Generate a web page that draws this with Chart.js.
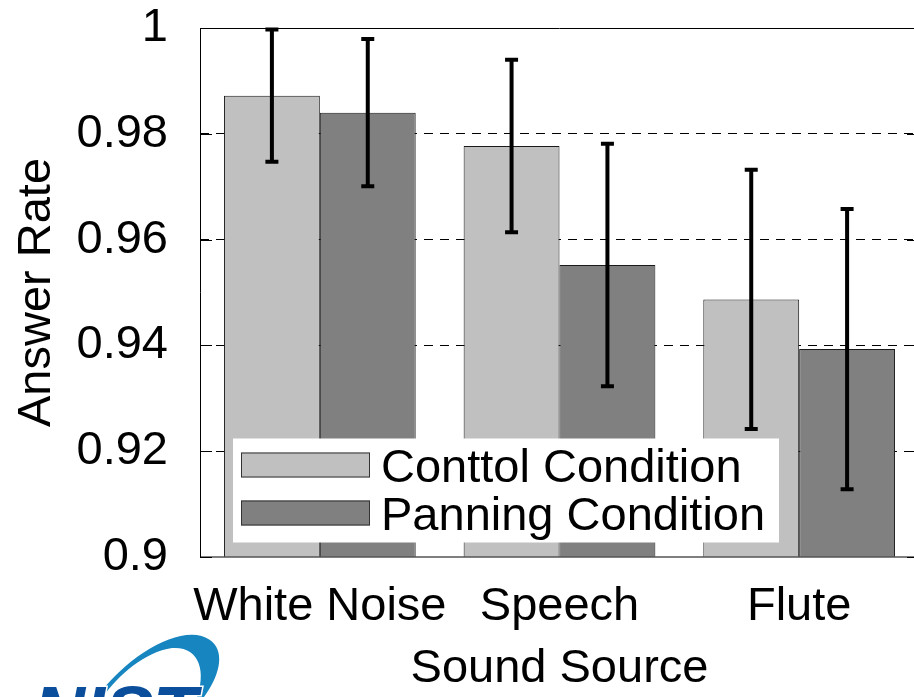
<!DOCTYPE html>
<html>
<head>
<meta charset="utf-8">
<title>Answer Rate by Sound Source</title>
<script src="https://cdn.jsdelivr.net/npm/chart.js@4.4.1/dist/chart.umd.min.js"></script>
<style>
  html, body { margin: 0; padding: 0; background: #fff; overflow: hidden; }
  #wrap { width: 924px; height: 697px; }
</style>
</head>
<body>
<div id="wrap"><canvas id="rateChart" width="924" height="697"></canvas></div>
<script>
const sources = ['White Noise', 'Speech', 'Flute'];
const seriesNames = ['Conttol Condition', 'Panning Condition'];
const controlRate = [0.9872, 0.9777, 0.9487];
const panningRate = [0.9840, 0.9552, 0.9393];
const controlErr = [0.0125, 0.0163, 0.0245];
const panningErr = [0.0139, 0.0229, 0.0265];
const yTicks = [0.9, 0.92, 0.94, 0.96, 0.98, 1];
const yTickLabels = ['0.9', '0.92', '0.94', '0.96', '0.98', '1'];

const FONT = '"Liberation Sans", Arial, Helvetica, sans-serif';
const ctx = document.getElementById('rateChart').getContext('2d');

// vertical error bars with flat caps, centred on each bar
const errorBars = {
    id: 'errorBars',
    afterDatasetsDraw(chart) {
        const c = chart.ctx;
        const y = chart.scales.y;
        c.save();
        c.strokeStyle = '#000';
        c.lineWidth = 4;
        chart.data.datasets.forEach((ds, i) => {
            chart.getDatasetMeta(i).data.forEach((bar, j) => {
                const top = y.getPixelForValue(ds.data[j] + ds.errors[j]);
                const bot = y.getPixelForValue(ds.data[j] - ds.errors[j]);
                c.beginPath();
                c.moveTo(bar.x, top); c.lineTo(bar.x, bot);
                c.moveTo(bar.x - 6.5, top); c.lineTo(bar.x + 6.5, top);
                c.moveTo(bar.x - 6.5, bot); c.lineTo(bar.x + 6.5, bot);
                c.stroke();
            });
        });
        c.restore();
    }
};

// axes box with inward ticks
const axesBox = {
    id: 'axesBox',
    afterDatasetsDraw(chart) {
        const c = chart.ctx;
        const a = chart.chartArea;
        const y = chart.scales.y;
        c.save();
        c.strokeStyle = '#555';
        c.lineWidth = 1.5;
        c.beginPath();
        c.moveTo(a.left, a.bottom); c.lineTo(a.right, a.bottom);
        c.stroke();
        c.strokeStyle = '#000';
        c.lineWidth = 1;
        c.beginPath();
        c.moveTo(a.left + 0.5, a.bottom); c.lineTo(a.left + 0.5, a.top + 0.5);
        c.lineTo(a.right - 0.5, a.top + 0.5); c.lineTo(a.right - 0.5, a.bottom);
        yTicks.forEach(v => {
            const py = Math.round(y.getPixelForValue(v)) + 0.5;
            c.moveTo(a.left, py); c.lineTo(a.left + 12, py);
            c.moveTo(a.right - 12, py); c.lineTo(a.right, py);
        });
        c.stroke();
        c.restore();
    }
};

// legend box sitting inside the plot, over the bars
const boxLegend = {
    id: 'boxLegend',
    afterDatasetsDraw(chart) {
        const c = chart.ctx;
        const a = chart.chartArea;
        const lx = a.left + 33, ly = a.top + 410.5;
        c.save();
        c.fillStyle = '#fff';
        c.fillRect(lx, ly, 546, 104);
        c.font = '47px ' + FONT;
        c.textBaseline = 'alphabetic';
        chart.data.datasets.forEach((ds, i) => {
            const sy = ly + 14 + i * 48;
            c.fillStyle = ds.backgroundColor;
            c.fillRect(lx + 8, sy, 129, 25);
            c.strokeStyle = '#333';
            c.lineWidth = 1;
            c.strokeRect(lx + 8.5, sy + 0.5, 128, 24);
            c.fillStyle = '#000';
            c.fillText(ds.label, lx + 148, sy + 12.5 + 17);
        });
        c.restore();
    }
};

// logo swoosh and lettering in the lower left corner
const logo = {
    id: 'logo',
    afterDraw(chart) {
        const c = chart.ctx;
        c.save();
        c.fillStyle = '#1685c0';
        c.beginPath();
        c.moveTo(97, 697);
        c.bezierCurveTo(130, 652, 185, 622, 210, 640);
        c.bezierCurveTo(224, 650, 222, 672, 204, 697);
        c.lineTo(197, 697);
        c.bezierCurveTo(206, 672, 200, 646, 172, 648);
        c.bezierCurveTo(145, 652, 118, 675, 103, 697);
        c.closePath();
        c.fill();
        c.fillStyle = '#0b4f9c';
        c.strokeStyle = '#fff';
        c.lineWidth = 3;
        c.font = 'italic bold 72px ' + FONT;
        c.strokeText('NIST', 33, 737);
        c.fillText('NIST', 33, 737);
        c.restore();
    }
};

// keep label overhang from pushing the plot area around
function noOverhang(scale) {
    scale.paddingTop = 0;
    scale.paddingBottom = 0;
    scale.paddingLeft = 0;
    scale.paddingRight = 0;
}

const rateChart = new Chart(ctx, {
    type: 'bar',
    data: {
        labels: sources,
        datasets: [{
            label: seriesNames[0],
            data: controlRate,
            errors: controlErr,
            backgroundColor: '#c0c0c0',
            borderColor: '#1a1a1a',
            borderWidth: 1
        }, {
            label: seriesNames[1],
            data: panningRate,
            errors: panningErr,
            backgroundColor: '#808080',
            borderColor: '#1a1a1a',
            borderWidth: 1
        }]
    },
    options: {
        responsive: false,
        animation: false,
        categoryPercentage: 0.8,
        barPercentage: 1.0,
        layout: { padding: { top: 28, right: 5, bottom: 0, left: 0 } },
        plugins: {
            legend: { display: false },
            tooltip: { enabled: false }
        },
        scales: {
            x: {
                grid: { display: false },
                border: { display: false },
                ticks: {
                    color: '#000',
                    font: { family: FONT, size: 47, lineHeight: 1 },
                    padding: 19,
                    autoSkip: false,
                    maxRotation: 0
                },
                title: {
                    display: true,
                    text: 'Sound Source',
                    color: '#000',
                    font: { family: FONT, size: 47, lineHeight: 1 },
                    padding: { top: 39 }
                },
                afterFit(scale) { scale.height = 140; noOverhang(scale); }
            },
            y: {
                min: 0.9,
                max: 1,
                afterBuildTicks(scale) {
                    scale.ticks = yTicks.map(v => ({ value: v }));
                },
                grid: {
                    drawTicks: false,
                    lineWidth: 1,
                    color: ctx => (ctx.tick && ctx.tick.value > 0.9 && ctx.tick.value < 1) ? '#000' : 'rgba(0,0,0,0)'
                },
                border: { display: false, dash: [9, 7] },
                ticks: {
                    color: '#000',
                    padding: 32,
                    font: { family: FONT, size: 47, lineHeight: 1 },
                    callback: (v, i) => yTickLabels[i]
                },
                title: {
                    display: true,
                    text: 'Answer Rate',
                    color: '#000',
                    font: { family: FONT, size: 47, lineHeight: 1 },
                    padding: { top: 13.5 }
                },
                afterFit(scale) { scale.width = 200; noOverhang(scale); }
            }
        }
    },
    plugins: [errorBars, axesBox, boxLegend, logo]
});
</script>
</body>
</html>
